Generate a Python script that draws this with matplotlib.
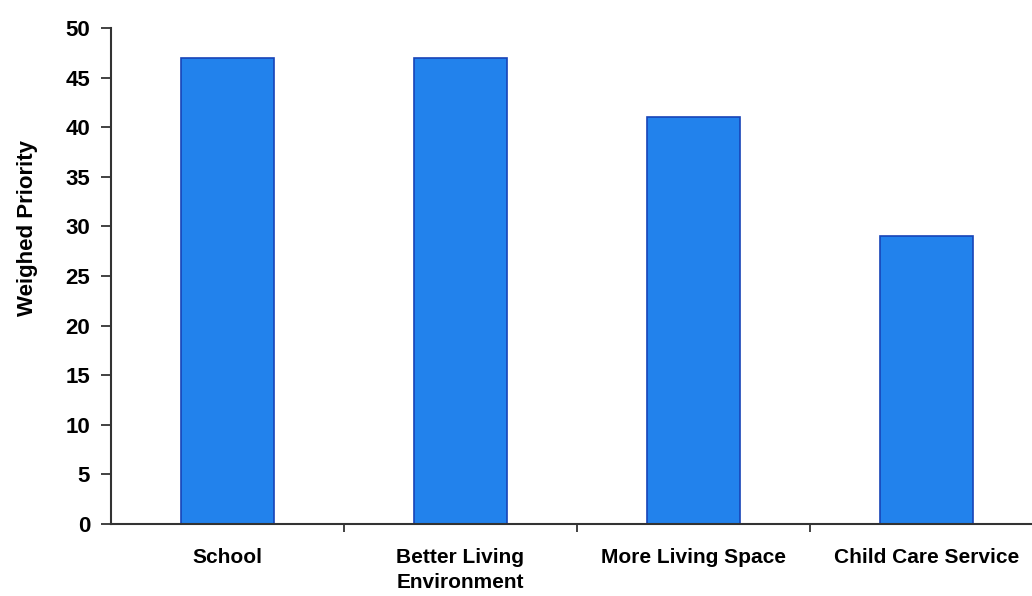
import matplotlib
matplotlib.use("Agg")
import matplotlib.pyplot as plt

categories = ["School", "Better Living\nEnvironment", "More Living Space", "Child Care Service"]
priority = [47, 47, 41, 29]
y_ticks = [0, 5, 10, 15, 20, 25, 30, 35, 40, 45, 50]

plt.rcParams["font.family"] = ["Liberation Sans", "DejaVu Sans"]
plt.rcParams["font.weight"] = "bold"

fig = plt.figure(figsize=(10.32, 5.96), dpi=100)
left = 111 / 1032
right_px = 1043
ax = fig.add_axes([left, 1 - 524 / 596, (right_px - 111) / 1032, (524 - 28) / 596])

x = list(range(len(categories)))
ax.bar(x, priority, width=0.40, color="#2282ec", edgecolor="#1844b8", linewidth=1.2, zorder=2)

ax.set_xlim(-0.5, len(categories) - 0.5)
ax.set_ylim(0, 50)
ax.set_yticks(y_ticks)
ax.set_yticklabels([str(v) for v in y_ticks], fontsize=16, fontweight="bold")
ax.set_xticks(x)
ax.set_xticklabels(categories, fontsize=15, fontweight="bold", linespacing=1.45)
ax.set_xticks([i + 0.5 for i in x[:-1]], minor=True)
ax.tick_params(axis="x", which="major", length=0, pad=17)
ax.tick_params(axis="x", which="minor", length=6, width=1.3, direction="out", color="#333333")
ax.tick_params(axis="y", length=7, width=1.3, direction="out", color="#333333", pad=8)

for side in ("top", "right"):
    ax.spines[side].set_visible(False)
for side in ("left", "bottom"):
    ax.spines[side].set_linewidth(1.5)
    ax.spines[side].set_color("#333333")

ax.set_ylabel("Weighed Priority", fontsize=16, fontweight="bold")
ax.yaxis.set_label_coords(-0.078, 0.597)

fig.savefig("out.png", dpi=100)
